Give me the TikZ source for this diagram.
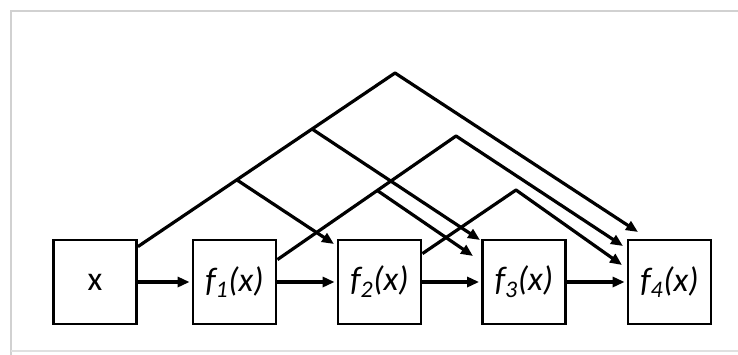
\documentclass[tikz,border=0pt]{standalone}
\usepackage{fontspec}
\setmainfont{Carlito}
\usetikzlibrary{arrows.meta,calc}
\begin{document}
\begin{tikzpicture}[x=1pt,y=-1pt,
  blk/.style={draw=black,line width=2.8pt,minimum width=83pt,minimum height=84pt,inner sep=0pt,font=\fontsize{34}{38}\selectfont},
  conn/.style={line width=3.2pt,line join=round,-{Triangle[length=12pt,width=10pt]}},
  frame/.style={draw=black!18,line width=1.6pt}]
\useasboundingbox (0,0) rectangle (738,354);
\draw[frame] (11,360) -- (11,11) -- (745,11);
\draw[draw=black!12,line width=1.2pt] (11,351) -- (745,351);
\node[blk] (x)  at (95,282)  {x};
\node[blk] (f1) at (234.5,282) {\textit{f\textsubscript{1}(x)}};
\node[blk] (f2) at (379.5,282) {\textit{f\textsubscript{2}(x)}};
\node[blk] (f3) at (524,282)   {\textit{f\textsubscript{3}(x)}};
\node[blk] (f4) at (669.5,282) {\textit{f\textsubscript{4}(x)}};
% sequential arrows
\draw[conn,shorten >=2pt] (x) -- (f1);
\draw[conn,shorten >=2pt] (f1) -- (f2);
\draw[conn,shorten >=2pt] (f2) -- (f3);
\draw[conn,shorten >=2pt] (f3) -- (f4);
% skip-connection geometry
\coordinate (s0) at ($(x.north east)+(0,8)$);
\coordinate (p0) at (395,73);
\coordinate (t0) at (638,232);
\coordinate (b01) at (237,180);
\coordinate (t01) at (334,244);
\coordinate (b02) at (312,129);
\coordinate (t02) at (480,240);
\coordinate (s1) at ($(f1.north east)+(0,21)$);
\coordinate (p1) at (456,136);
\coordinate (t1) at (623,246);
\coordinate (b11) at (378,191);
\coordinate (t11) at (473,256);
\coordinate (s2) at ($(f2.north east)+(0,15)$);
\coordinate (p2) at (516,190);
\coordinate (t2) at (622,265);
% from x
\draw[conn] (s0) -- (p0) -- (t0);
\draw[conn] (b01) -- (t01);
\draw[conn] (b02) -- (t02);
% from f1
\draw[conn] (s1) -- (p1) -- (t1);
\draw[conn] (b11) -- (t11);
% from f2
\draw[conn] (s2) -- (p2) -- (t2);
\end{tikzpicture}
\end{document}
